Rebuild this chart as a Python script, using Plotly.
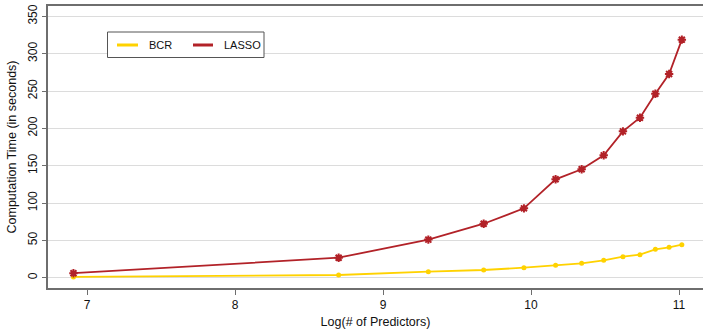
import plotly.graph_objects as go

# Data
log_predictors = [6.908, 8.700, 9.306, 9.680, 9.952, 10.166, 10.342, 10.491, 10.621, 10.736, 10.840, 10.933, 11.019]
bcr_time = [1.0, 3.6, 8.0, 10.3, 13.4, 16.6, 19.3, 23.3, 28.1, 30.8, 38.0, 40.7, 44.2]
lasso_time = [6.0, 26.8, 51.0, 72.3, 92.9, 131.8, 145.2, 163.9, 196.0, 214.3, 246.4, 272.8, 318.8]
y_ticks = [0, 50, 100, 150, 200, 250, 300, 350]
x_ticks = [7, 8, 9, 10, 11]

BCR_COLOR = "#FFD200"
LASSO_COLOR = "#B22228"
FONT = "Liberation Sans, Arial, sans-serif"

fig = go.Figure()
fig.add_trace(go.Scatter(
    x=log_predictors, y=bcr_time, mode="lines+markers", name="BCR",
    line=dict(color=BCR_COLOR, width=1.8),
    marker=dict(symbol="circle", size=5, color=BCR_COLOR),
    showlegend=False))
fig.add_trace(go.Scatter(
    x=log_predictors, y=lasso_time, mode="lines+markers", name="LASSO",
    line=dict(color=LASSO_COLOR, width=1.8),
    marker=dict(symbol="asterisk", size=7, color=LASSO_COLOR,
                line=dict(color=LASSO_COLOR, width=2)),
    showlegend=False))
fig.add_trace(go.Scatter(
    x=log_predictors, y=lasso_time, mode="markers",
    marker=dict(symbol="circle", size=5, color=LASSO_COLOR),
    showlegend=False, hoverinfo="skip"))

# Manual legend (paper coords)
W, H = 703, 329
L, R, T, B = 48, 0, 6, 41
pw, ph = W - L - R, H - T - B
def px(x):
    return (x - L) / pw
def py(y):
    return (H - B - y) / ph

shapes = [
    dict(type="rect", xref="paper", yref="paper",
         x0=px(107.5), x1=px(264), y0=py(57.5), y1=py(32),
         line=dict(color="#555555", width=1), fillcolor="white"),
    dict(type="line", xref="paper", yref="paper",
         x0=px(117), x1=px(138), y0=py(45), y1=py(45),
         line=dict(color=BCR_COLOR, width=3)),
    dict(type="line", xref="paper", yref="paper",
         x0=px(193), x1=px(213), y0=py(45), y1=py(45),
         line=dict(color=LASSO_COLOR, width=3)),
]
annotations = [
    dict(text="BCR", xref="paper", yref="paper", x=px(147), y=py(45),
         xanchor="left", yanchor="middle", showarrow=False,
         font=dict(size=11, color="#111111", family=FONT)),
    dict(text="LASSO", xref="paper", yref="paper", x=px(222), y=py(45),
         xanchor="left", yanchor="middle", showarrow=False,
         font=dict(size=11, color="#111111", family=FONT)),
]

fig.update_layout(
    width=W, height=H,
    margin=dict(l=L, r=R, t=T, b=B),
    paper_bgcolor="white", plot_bgcolor="white",
    font=dict(family=FONT, size=11.5, color="#111111"),
    shapes=shapes, annotations=annotations,
    showlegend=False,
)
fig.update_xaxes(
    range=[6.736, 11.162], tickvals=x_ticks,
    showgrid=False, zeroline=False,
    showline=True, linecolor="#6e6e6e", linewidth=1.5, mirror=True,
    ticks="outside", ticklen=5, tickcolor="#6e6e6e",
    tickfont=dict(size=12),
    title=dict(text="Log(# of Predictors)", font=dict(size=12.5), standoff=11),
    automargin=False,
)
fig.update_yaxes(
    range=[-13.8, 363.9], tickvals=y_ticks, tickangle=-90,
    showgrid=True, gridcolor="#dcdcdc", gridwidth=1, zeroline=False,
    showline=True, linecolor="#6e6e6e", linewidth=1.5,
    ticks="outside", ticklen=4, tickcolor="#6e6e6e",
    tickfont=dict(size=12),
    title=dict(text="Computation Time (in seconds)", font=dict(size=12.5), standoff=7),
    automargin=False,
)

fig.write_html("out.html", config={"displayModeBar": False},
               post_script="document.body.style.margin='0';document.body.style.padding='0';")
